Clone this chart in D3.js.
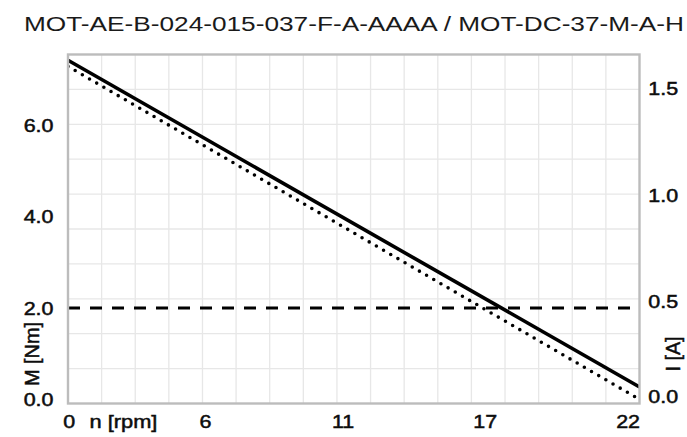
<!DOCTYPE html>
<html>
<head>
<meta charset="utf-8">
<script src="https://cdn.jsdelivr.net/npm/d3@7"></script>
<style>
  html, body { margin: 0; padding: 0; background: #fff; }
  svg { display: block; font-family: "Liberation Sans", Arial, Helvetica, sans-serif; }
</style>
</head>
<body>
<svg id="chart" width="687" height="437"></svg>
<script>
// Motor characteristic: torque and current over output speed
const title = "MOT-AE-B-024-015-037-F-A-AAAA / MOT-DC-37-M-A-H";

const speed = [0, 22.4];          // n [rpm], stall to no-load
const torque = [7.28, 0];         // M [Nm]
const current = [1.632, 0.10];    // I [A]
const ratedTorque = 2.0;          // M [Nm], dashed reference

const speedTicks = [0, 5.6, 11.2, 16.8, 22.4];
const speedTickLabels = ["0", "6", "11", "17", "22"];
const torqueTicks = [0, 2, 4, 6];
const currentTicks = [0, 0.5, 1.0, 1.5];

const gridCols = 17;
const gridRows = 10;

// ---- layout ----
const L = 68, R = 639.5, T = 54.5, B = 403.5;
const FS = 18.5;       // tick label size
const SX = 1.16;       // horizontal stretch of label glyphs
const textColor = "#0d0d0d";
const textWeight = 0.5; // outline that thickens label glyphs

const svg = d3.select("#chart");

const x = d3.scaleLinear().domain([speed[0], speed[speed.length - 1]]).range([L, R]);
const yM = d3.scaleLinear().domain([-0.09, 7.54]).range([B, T]);
const yI = d3.scaleLinear().domain([0.0225, 1.659]).range([B, T]);
const gx = d3.scaleLinear().domain([0, gridCols]).range([L, R]);
const gy = d3.scaleLinear().domain([0, gridRows]).range([B, T]);

svg.append("defs").append("clipPath").attr("id", "plot-clip")
  .append("rect").attr("x", L).attr("y", T).attr("width", R - L).attr("height", B - T);

// grid
const grid = svg.append("g").attr("stroke", "#e7e7e7").attr("stroke-width", 1.3);
grid.selectAll("line.v").data(d3.range(1, gridCols)).join("line")
  .attr("class", "v")
  .attr("x1", d => gx(d)).attr("x2", d => gx(d))
  .attr("y1", T).attr("y2", B);
grid.selectAll("line.h").data(d3.range(1, gridRows)).join("line")
  .attr("class", "h")
  .attr("x1", L).attr("x2", R)
  .attr("y1", d => gy(d)).attr("y2", d => gy(d));

const plot = svg.append("g").attr("clip-path", "url(#plot-clip)");

// rated torque reference
plot.append("line")
  .attr("x1", L).attr("x2", R)
  .attr("y1", yM(ratedTorque)).attr("y2", yM(ratedTorque))
  .attr("stroke", "#000").attr("stroke-width", 3)
  .attr("stroke-dasharray", "12 10");

const torquePts = speed.map((n, i) => [n, torque[i]]);
const currentPts = speed.map((n, i) => [n, current[i]]);

// torque (dotted)
plot.append("path")
  .attr("d", d3.line().x(d => x(d[0])).y(d => yM(d[1]))(torquePts))
  .attr("fill", "none").attr("stroke", "#000")
  .attr("stroke-width", 3.6).attr("stroke-linecap", "round")
  .attr("stroke-dasharray", "0 8.3");

// current (solid)
plot.append("path")
  .attr("d", d3.line().x(d => x(d[0])).y(d => yI(d[1]))(currentPts))
  .attr("fill", "none").attr("stroke", "#000")
  .attr("stroke-width", 3.6);

// frame
svg.append("rect")
  .attr("x", L).attr("y", T).attr("width", R - L).attr("height", B - T)
  .attr("fill", "none").attr("stroke", "#bcbcbc").attr("stroke-width", 2.4);

// ---- text ----
function label(px, py, str, anchor, size = FS, sx = SX) {
  return svg.append("text")
    .attr("transform", `translate(${px},${py}) scale(${sx},1)`)
    .attr("text-anchor", anchor)
    .attr("font-size", size)
    .attr("fill", textColor)
    .attr("stroke", textColor)
    .attr("stroke-width", textWeight)
    .text(str);
}

// title
svg.append("text")
  .attr("x", 24).attr("y", 30.7)
  .attr("font-size", 20.5)
  .attr("fill", "#1a1a1a")
  .attr("textLength", 660)
  .attr("lengthAdjust", "spacingAndGlyphs")
  .text(title);

// speed tick labels
const xBase = 428.3;
speedTicks.forEach((v, i) => {
  if (i === 0) label(x(v) + 1.3, xBase, speedTickLabels[i], "middle");
  else label(x(v) + 0.5, xBase, speedTickLabels[i], "end");
});
label(89.5, xBase, "n [rpm]", "start", FS, 1.18);

// torque tick labels (left)
const half = 6.6;
torqueTicks.forEach(v => label(53.5, yM(v) + half, d3.format(".1f")(v), "end"));

// current tick labels (right), kept inside the plot height
currentTicks.forEach(v => label(648.3, Math.min(yI(v), B - 6.8) + half, d3.format(".1f")(v), "start"));

// axis titles
const titleSize = 20;
function axisTitle(cx, cy, str, len) {
  svg.append("text")
    .attr("transform", `translate(${cx + 6.5},${cy}) rotate(-90)`)
    .attr("text-anchor", "middle")
    .attr("font-size", titleSize)
    .attr("fill", textColor)
    .attr("stroke", textColor)
    .attr("stroke-width", textWeight)
    .attr("textLength", len)
    .attr("lengthAdjust", "spacingAndGlyphs")
    .text(str);
}
axisTitle(32.5, 354, "M [Nm]", 64);
axisTitle(673, 354, "I [A]", 35);
</script>
</body>
</html>
